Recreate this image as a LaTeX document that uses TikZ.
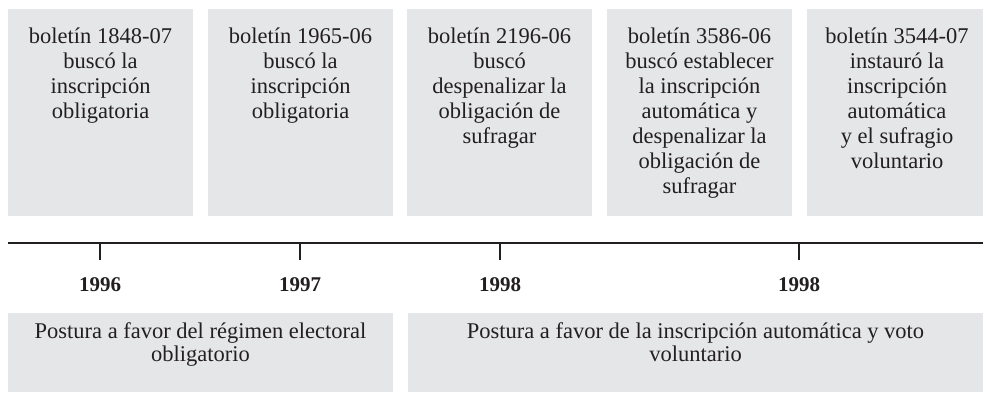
\documentclass[tikz,border=0pt]{standalone}
\usepackage{fontspec}
\setmainfont{Liberation Serif}
\definecolor{fondo}{RGB}{229,230,232}
\definecolor{tinta}{RGB}{35,31,32}
\begin{document}
\begin{tikzpicture}[x=1pt,y=-1pt,
        caja/.style={fill=fondo,draw=none,inner sep=0pt,anchor=north west},
        texto/.style={anchor=north,inner sep=0pt,align=center,text=tinta,
            font=\fontsize{22.5}{25}\selectfont},
        anio/.style={inner sep=0pt,text=tinta,font=\fontsize{21}{25}\selectfont\bfseries},
        eje/.style={draw=tinta,line width=1.3pt}]
    \useasboundingbox(0,0)rectangle(983,392);
    % boletines
    \node[caja,minimum width=185pt,minimum height=207pt](b1)at(8,9){};
    \node[caja,minimum width=185pt,minimum height=207pt](b2)at(208,9){};
    \node[caja,minimum width=185pt,minimum height=207pt](b3)at(407,9){};
    \node[caja,minimum width=185pt,minimum height=207pt](b4)at(607,9){};
    \node[caja,minimum width=176pt,minimum height=207pt](b5)at(807,9){};
    \node[texto](t1)at(100.5,28){boletín 1848-07\\buscó la\\inscripción\\obligatoria};
    \node[texto](t2)at(300.5,28){boletín 1965-06\\buscó la\\inscripción\\obligatoria};
    \node[texto](t3)at(499.5,28){boletín 2196-06\\buscó\\despenalizar la\\obligación de\\sufragar};
    \node[texto](t4)at(699.5,28){boletín 3586-06\\buscó establecer\\la inscripción\\automática y\\despenalizar la\\obligación de\\sufragar};
    \node[texto](t5)at(897,28){boletín 3544-07\\instauró la\\inscripción\\automática\\y el sufragio\\voluntario};
    % linea de tiempo
    \coordinate(ini)at(8,243);
    \coordinate(fin)at(983,243);
    \draw[eje](ini)--(fin);
    \foreach \x/\a [count=\i] in {100/1996,300/1997,500/1998,799/1998}{
        \coordinate(m\i)at(\x,243);
        \draw[eje](m\i)--++(0,17);
        \node[anio](a\i)at(\x,285){\a};
    }
    % posturas
    \node[caja,minimum width=385pt,minimum height=79pt](p1)at(8,313){};
    \node[caja,minimum width=575pt,minimum height=79pt](p2)at(408,313){};
    \node[texto,font=\fontsize{22.5}{23.5}\selectfont](q1)at(200.5,322){Postura a favor del régimen electoral\\obligatorio};
    \node[texto,font=\fontsize{22.5}{23.5}\selectfont](q2)at(695.5,322){Postura a favor de la inscripción automática y voto\\voluntario};
\end{tikzpicture}
\end{document}
